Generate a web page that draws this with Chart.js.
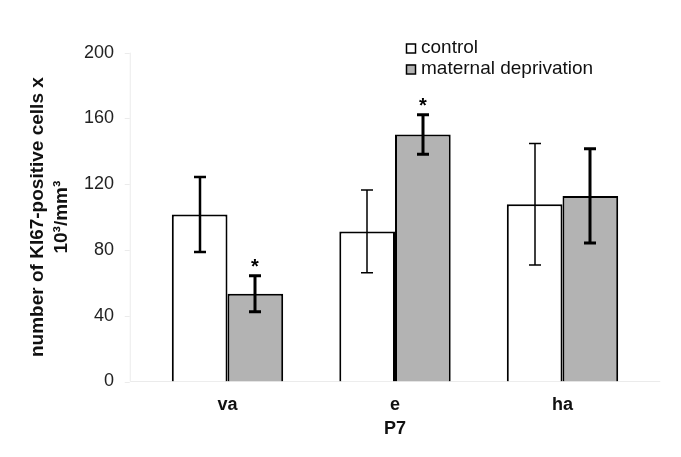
<!DOCTYPE html>
<html>
<head>
<meta charset="utf-8">
<script src="https://cdn.jsdelivr.net/npm/chart.js@4.4.1/dist/chart.umd.min.js"></script>
<style>
    html, body { margin: 0; padding: 0; background: #fff; }
    canvas { display: block; }
</style>
</head>
<body>
<canvas id="chart" width="681" height="457"></canvas>
<script>
// Data (P7, Ki67-positive cells x 10^3/mm^3)
const categories = ['va', 'e', 'ha'];
const controlValues = [101.6, 91.3, 107.8];
const controlErrors = [22.8, 25.2, 37.0];
const deprivationValues = [53.4, 150.3, 112.9];
const deprivationErrors = [11.0, 12.0, 28.7];
const deprivationSignificant = [true, true, false];
const yTicks = [0, 40, 80, 120, 160, 200];

const axisOverhang = 14;

// faint axis lines, a bit wider than the plot area like the original
const axesPlugin = {
    id: 'faintAxes',
    beforeDatasetsDraw(chart) {
        const { ctx, chartArea } = chart;
        const y = chart.scales.y;
        const left = chartArea.left - axisOverhang;
        const right = chartArea.right + axisOverhang;
        ctx.save();
        ctx.strokeStyle = '#ebebeb';
        ctx.lineWidth = 1;
        ctx.beginPath();
        ctx.moveTo(left + 0.5, y.getPixelForValue(yTicks[yTicks.length - 1]));
        ctx.lineTo(left + 0.5, y.getPixelForValue(0));
        ctx.lineTo(right, y.getPixelForValue(0));
        yTicks.forEach(t => {
            const py = Math.round(y.getPixelForValue(t)) + 0.5;
            ctx.moveTo(left - 5, py);
            ctx.lineTo(left, py);
        });
        ctx.stroke();
        ctx.restore();
    }
};

const errorBarPlugin = {
    id: 'errorBars',
    afterDatasetsDraw(chart) {
        const { ctx } = chart;
        const y = chart.scales.y;
        chart.data.datasets.forEach((ds, i) => {
            const meta = chart.getDatasetMeta(i);
            meta.data.forEach((bar, j) => {
                const v = ds.data[j];
                const e = ds.errors[j];
                const top = y.getPixelForValue(v + e);
                const bot = y.getPixelForValue(v - e);
                const x = Math.round(bar.x);
                ctx.save();
                ctx.strokeStyle = '#000';
                ctx.lineWidth = ds.errorLineWidth[j];
                ctx.beginPath();
                ctx.moveTo(x, top);
                ctx.lineTo(x, bot);
                ctx.moveTo(x - 6, top);
                ctx.lineTo(x + 6, top);
                ctx.moveTo(x - 6, bot);
                ctx.lineTo(x + 6, bot);
                ctx.stroke();
                if (ds.significant && ds.significant[j]) {
                    ctx.fillStyle = '#000';
                    ctx.font = 'bold 20px "Liberation Sans", Arial, sans-serif';
                    ctx.textAlign = 'center';
                    ctx.textBaseline = 'middle';
                    ctx.fillText('*', x, top - 8);
                }
                ctx.restore();
            });
        });
    }
};

const legendPlugin = {
    id: 'boxLegend',
    afterDraw(chart) {
        const { ctx } = chart;
        const x0 = 406, y0 = 48, rowGap = 21, box = 9;
        ctx.save();
        chart.data.datasets.forEach((ds, i) => {
            const cy = y0 + i * rowGap;
            ctx.fillStyle = ds.backgroundColor;
            ctx.fillRect(x0, cy - box / 2, box, box);
            ctx.strokeStyle = '#000';
            ctx.lineWidth = 1.5;
            ctx.strokeRect(x0 + 0.5, cy - box / 2 + 0.5, box, box);
            ctx.fillStyle = '#111';
            ctx.font = '19px "Liberation Sans", Arial, sans-serif';
            ctx.textAlign = 'left';
            ctx.textBaseline = 'middle';
            ctx.fillText(ds.label, x0 + box + 6, cy);
        });
        ctx.restore();
    }
};

new Chart(document.getElementById('chart'), {
    type: 'bar',
    data: {
        labels: categories,
        datasets: [
            {
                label: 'control',
                data: controlValues,
                errors: controlErrors,
                errorLineWidth: [2.5, 1.5, 1.5],
                backgroundColor: '#ffffff',
                borderColor: '#000000',
                borderWidth: 2,
                categoryPercentage: 0.665,
                barPercentage: 1.0
            },
            {
                label: 'maternal deprivation',
                data: deprivationValues,
                errors: deprivationErrors,
                errorLineWidth: [3, 3, 3],
                significant: deprivationSignificant,
                backgroundColor: '#b3b3b3',
                borderColor: '#000000',
                borderWidth: 2,
                categoryPercentage: 0.665,
                barPercentage: 1.0
            }
        ]
    },
    options: {
        responsive: false,
        devicePixelRatio: 1,
        animation: false,
        layout: {
            padding: { top: 52.7, right: 34.75, bottom: 0, left: 0 }
        },
        plugins: {
            legend: { display: false },
            tooltip: { enabled: false }
        },
        scales: {
            x: {
                grid: { display: false, drawTicks: false },
                border: { display: false },
                ticks: {
                    color: '#111',
                    padding: 13,
                    font: { family: '"Liberation Sans", Arial, sans-serif', size: 18, weight: 'bold' }
                },
                title: {
                    display: true,
                    text: 'P7',
                    color: '#111',
                    padding: { top: 0, bottom: 17 },
                    font: { family: '"Liberation Sans", Arial, sans-serif', size: 18, weight: 'bold' }
                },
                afterFit(scale) { scale.height = 75.5; }
            },
            y: {
                min: 0,
                max: 200,
                afterBuildTicks(scale) { scale.ticks = yTicks.map(v => ({ value: v })); },
                grid: { display: false, drawTicks: false },
                border: { display: false },
                ticks: {
                    color: '#222',
                    padding: 29.75,
                    font: { family: '"Liberation Sans", Arial, sans-serif', size: 18 }
                },
                title: {
                    display: true,
                    text: ['number of KI67-positive cells x', '10\u00b3/mm\u00b3'],
                    color: '#111',
                    padding: { top: 25, bottom: 0 },
                    font: { family: '"Liberation Sans", Arial, sans-serif', size: 19, weight: 'bold', lineHeight: 1.3 }
                },
                afterFit(scale) { scale.width = 143.75; }
            }
        }
    },
    plugins: [axesPlugin, errorBarPlugin, legendPlugin]
});
</script>
</body>
</html>
